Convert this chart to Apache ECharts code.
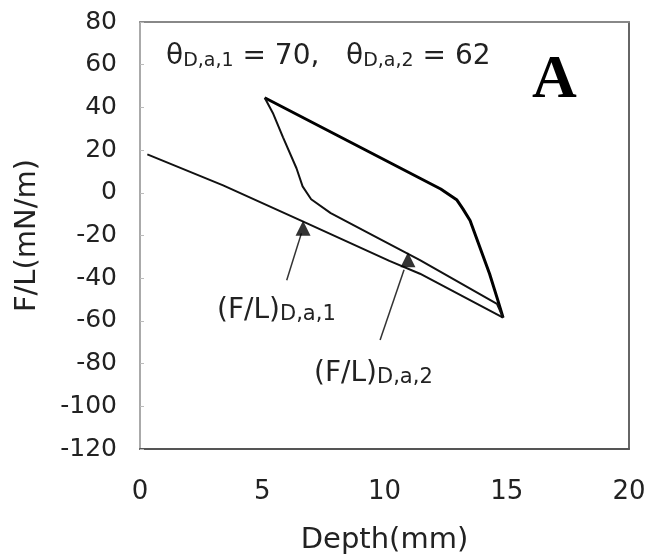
<!DOCTYPE html>
<html>
<head>
<meta charset="utf-8">
<script src="https://cdn.jsdelivr.net/npm/echarts@6/dist/echarts.min.js"></script>
<style>
  html, body { margin: 0; padding: 0; background: #fff; }
  #chart { width: 646px; height: 554px; }
</style>
</head>
<body>
<div id="chart"></div>
<script>
// Axis ranges and ticks
const xTicks = [0, 5, 10, 15, 20];
const yTicks = [-120, -100, -80, -60, -40, -20, 0, 20, 40, 60, 80];

// First advancing run
const advance1Depth = [0.3, 3.4, 6.7, 10.2, 11.45, 14.85];
const advance1Force = [18, 3.5, -13.6, -31.9, -37.9, -58.5];

// Receding run (back from maximum depth)
const recedeDepth = [14.85, 14.64, 14.3, 13.9, 13.5, 13.2, 12.95, 12.3, 5.1];
const recedeForce = [-58.5, -50.5, -38, -25.5, -13, -7.4, -3.2, 1.8, 44.5];

// Second advancing run
const advance2Depth = [5.1, 5.45, 5.85, 6.4, 6.65, 7.0, 7.8, 9.7, 11.45, 14.6, 14.85];
const advance2Force = [44.5, 37, 26, 11.5, 3, -3, -9.5, -21, -31.5, -52, -58.5];

// Marked advancing forces (F/L)D,a,1 and (F/L)D,a,2
const markDepth = [6.67, 10.96];
const markForce = [-13.8, -28.6];

// Pointer lines from the annotations to the marked points
const pointer1Depth = [6.0, 6.6];
const pointer1Force = [-41, -19];
const pointer2Depth = [9.82, 10.8];
const pointer2Force = [-69, -36];

const zip = (xs, ys) => xs.map((x, i) => [x, ys[i]]);

const FONT = 'DejaVu Sans';
const chart = echarts.init(document.getElementById('chart'), null, { renderer: 'canvas' });

const curveStyle = { color: '#111', width: 2 };

const labelRich = {
  t: { fontSize: 28, fontFamily: FONT, fill: '#222', verticalAlign: 'bottom', lineHeight: 34 },
  s: { fontSize: 21, fontFamily: FONT, fill: '#222', verticalAlign: 'bottom', lineHeight: 27 }
};

chart.setOption({
  animation: false,
  backgroundColor: '#fff',
  grid: { left: 140, right: 17, top: 22, bottom: 105, containLabel: false, outerBoundsMode: 'none' },
  xAxis: [
    {
      type: 'value', min: xTicks[0], max: xTicks[xTicks.length - 1], interval: 5,
      position: 'bottom',
      axisLine: { show: true, onZero: false, lineStyle: { color: '#555', width: 2 } },
      axisTick: { show: false },
      splitLine: { show: false },
      axisLabel: { fontSize: 26, fontFamily: FONT, color: '#222', margin: 30 },
      name: 'Depth(mm)', nameLocation: 'middle', nameGap: 77,
      nameTextStyle: { fontSize: 29, fontFamily: FONT, color: '#222' }
    },
    {
      type: 'value', min: xTicks[0], max: xTicks[xTicks.length - 1], interval: 5,
      position: 'top',
      axisLine: { show: true, onZero: false, lineStyle: { color: '#888', width: 2 } },
      axisTick: { show: false }, axisLabel: { show: false }, splitLine: { show: false }
    }
  ],
  yAxis: [
    {
      type: 'value', min: yTicks[0], max: yTicks[yTicks.length - 1], interval: 20,
      position: 'left',
      axisLine: { show: true, onZero: false, lineStyle: { color: '#aaa', width: 2 } },
      axisTick: { show: true, inside: true, length: 4, lineStyle: { color: '#bbb', width: 1 } },
      splitLine: { show: false },
      axisLabel: { fontSize: 25, fontFamily: FONT, color: '#222', margin: 23 },
      name: 'F/L(mN/m)', nameLocation: 'middle', nameGap: 98,
      nameTextStyle: { fontSize: 29, fontFamily: FONT, color: '#222' }
    },
    {
      type: 'value', min: yTicks[0], max: yTicks[yTicks.length - 1], interval: 20,
      position: 'right',
      axisLine: { show: true, onZero: false, lineStyle: { color: '#666', width: 2 } },
      axisTick: { show: false }, axisLabel: { show: false }, splitLine: { show: false }
    }
  ],
  series: [
    { type: 'line', name: 'advance 1', data: zip(advance1Depth, advance1Force),
      symbol: 'none', lineStyle: curveStyle },
    { type: 'line', name: 'recede', data: zip(recedeDepth, recedeForce),
      symbol: 'none', lineStyle: { color: '#000', width: 3 } },
    { type: 'line', name: 'advance 2', data: zip(advance2Depth, advance2Force),
      symbol: 'none', lineStyle: curveStyle },
    { type: 'line', name: 'pointer 1', data: zip(pointer1Depth, pointer1Force),
      symbol: 'none', lineStyle: { color: '#333', width: 1.5 } },
    { type: 'line', name: 'pointer 2', data: zip(pointer2Depth, pointer2Force),
      symbol: 'none', lineStyle: { color: '#333', width: 1.5 } },
    { type: 'scatter', name: 'marks', data: zip(markDepth, markForce),
      symbol: 'triangle', symbolSize: 15, symbolOffset: [0, 6],
      itemStyle: { color: '#000' }, z: 5 }
  ],
  graphic: [
    {
      type: 'text', left: 166, top: 43,
      style: {
        text: '{t|θ}{s|D,a,1}{t| = 70,   θ}{s|D,a,2}{t| = 62}',
        rich: {
          t: { fontSize: 28, fontFamily: FONT, fill: '#222', verticalAlign: 'bottom', lineHeight: 34 },
          s: { fontSize: 19, fontFamily: FONT, fill: '#222', verticalAlign: 'bottom', lineHeight: 26 }
        }
      }
    },
    {
      type: 'text', left: 532, top: 50,
      style: { text: 'A', fontSize: 62, fontWeight: 'bold', fontFamily: 'Liberation Serif', fill: '#000' }
    },
    {
      type: 'text', left: 217, top: 297,
      style: { text: '{t|(F/L)}{s|D,a,1}', rich: labelRich }
    },
    {
      type: 'text', left: 314, top: 360,
      style: { text: '{t|(F/L)}{s|D,a,2}', rich: labelRich }
    }
  ]
});
</script>
</body>
</html>
